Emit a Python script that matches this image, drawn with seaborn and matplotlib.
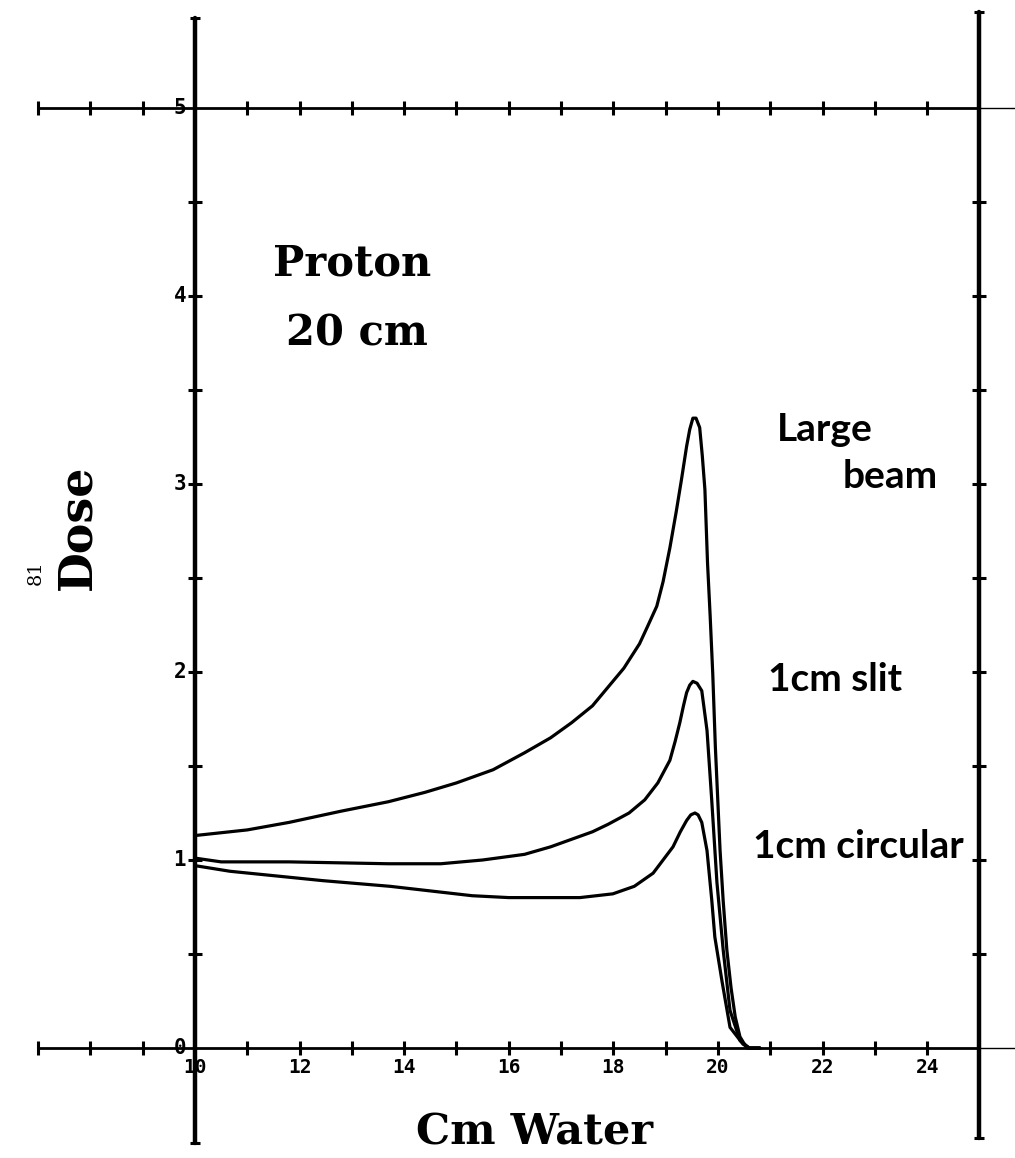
import numpy as np
import pandas as pd
import seaborn as sns
import matplotlib.pyplot as plt

# depth in water (cm) and relative dose
large_x = [10.0, 11.0, 11.8, 12.8, 13.7, 14.4, 15.0, 15.7, 16.3, 16.8, 17.2, 17.6,
           17.9, 18.2, 18.5, 18.65, 18.83, 18.95, 19.08, 19.2, 19.3, 19.4, 19.46,
           19.52, 19.58, 19.65, 19.7, 19.75, 19.8, 19.85, 19.9, 19.95, 20.04, 20.1,
           20.17, 20.25, 20.33, 20.42, 20.55, 20.8]
large_y = [1.13, 1.16, 1.20, 1.26, 1.31, 1.36, 1.41, 1.48, 1.57, 1.65, 1.73, 1.82,
           1.92, 2.02, 2.15, 2.24, 2.35, 2.48, 2.66, 2.85, 3.02, 3.20, 3.29,
           3.35, 3.35, 3.30, 3.15, 2.97, 2.58, 2.30, 1.99, 1.60, 1.05, 0.78,
           0.52, 0.32, 0.165, 0.06, 0.0, 0.0]

slit_x = [10.0, 10.5, 11.8, 13.7, 14.7, 15.5, 16.3, 16.8, 17.2, 17.6, 17.9, 18.3,
          18.6, 18.85, 19.08, 19.18, 19.27, 19.34, 19.4, 19.46, 19.52, 19.6, 19.69,
          19.79, 19.88, 19.98, 20.1, 20.23, 20.42, 20.6, 20.8]
slit_y = [1.01, 0.99, 0.99, 0.98, 0.98, 1.00, 1.03, 1.07, 1.11, 1.15, 1.19, 1.25,
          1.32, 1.41, 1.53, 1.63, 1.73, 1.82, 1.89, 1.93, 1.95, 1.94, 1.90,
          1.69, 1.32, 0.88, 0.52, 0.20, 0.04, 0.0, 0.0]

circ_x = [10.0, 10.67, 12.45, 13.73, 15.3, 16.0, 16.6, 17.36, 17.99, 18.4, 18.76,
          18.95, 19.14, 19.28, 19.4, 19.48, 19.56, 19.62, 19.69, 19.79, 19.88,
          19.94, 20.08, 20.23, 20.48, 20.6, 20.8]
circ_y = [0.97, 0.94, 0.89, 0.86, 0.81, 0.80, 0.80, 0.80, 0.82, 0.86, 0.93,
          1.00, 1.07, 1.15, 1.21, 1.24, 1.25, 1.24, 1.20, 1.05, 0.79,
          0.59, 0.35, 0.11, 0.02, 0.0, 0.0]

x_ticks = [7, 8, 9, 11, 12, 13, 14, 15, 16, 17, 18, 19, 20, 21, 22, 23, 24]
x_labels = ["10", "12", "14", "16", "18", "20", "22", "24"]
y_ticks = [0.5, 1, 1.5, 2, 2.5, 3, 3.5, 4, 4.5]
y_labels = ["0", "1", "2", "3", "4", "5"]

df = pd.concat([
    pd.DataFrame({"depth": large_x, "dose": large_y, "beam": "Large beam"}),
    pd.DataFrame({"depth": slit_x, "dose": slit_y, "beam": "1cm slit"}),
    pd.DataFrame({"depth": circ_x, "dose": circ_y, "beam": "1cm circular"}),
], ignore_index=True)

sns.set_style("white")

fig = plt.figure(figsize=(10.15, 11.58), dpi=100)
ax = fig.add_axes([0, 0, 1, 1])

sns.lineplot(data=df, x="depth", y="dose", units="beam", estimator=None, sort=False,
             color="black", lw=2.3, legend=False, ax=ax)
for line in ax.lines:
    line.set_solid_joinstyle("round")

ax.set_xlim(6.272, 25.679)
ax.set_ylim(-0.585, 5.574)
ax.axis("off")

# hand drawn frame: two horizontal rules and two vertical rules
for yy in [0, 5]:
    ax.plot([6.97, 25.0], [yy, yy], color="black", lw=2.0, solid_capstyle="butt")
    ax.plot([25.0, 25.68], [yy, yy], color="black", lw=1.0)
    ax.plot(x_ticks, [yy] * len(x_ticks), ls="none", marker="|", ms=10, mew=2.2, color="black")

ax.plot([10, 10], [-0.505, 5.48], color="black", lw=3.2)
ax.plot([25, 25], [-0.48, 5.51], color="black", lw=3.2)
ax.plot([10, 10, 25, 25], [-0.505, 5.48, -0.48, 5.51], ls="none", marker="_", ms=7, mew=2.2, color="black")
for xx in [10, 25]:
    ax.plot([xx] * len(y_ticks), y_ticks, ls="none", marker="_", ms=10, mew=2.2, color="black")

tick_font = dict(family="DejaVu Sans Mono", weight="bold", fontsize=14, color="black")
for i, lab in enumerate(x_labels):
    ax.text(10 + 2 * i, -0.106, lab, ha="center", va="center", **tick_font)
for i, lab in enumerate(y_labels):
    ax.text(9.83, i, lab, ha="right", va="center", fontsize=15, family="DejaVu Sans Mono",
            weight="bold", color="black")

serif = dict(family="DejaVu Serif", weight="bold", color="black")
ax.text(13.0, 4.17, "Proton", ha="center", va="center", fontsize=30, **serif)
ax.text(13.1, 3.80, "20 cm", ha="center", va="center", fontsize=30, **serif)
ax.text(16.5, -0.45, "Cm Water", ha="center", va="center", fontsize=31, **serif)
ax.text(7.76, 2.77, "Dose", ha="center", va="center", rotation=90, fontsize=33, **serif)
ax.text(6.96, 2.53, "81", ha="center", va="center", rotation=90, fontsize=14,
        family="DejaVu Serif", color="black")

hand = dict(family="Lato", weight="bold", fontsize=28, color="black")
ax.text(21.13, 3.29, "Large", ha="left", va="center", **hand)
ax.text(22.39, 3.04, "beam", ha="left", va="center", **hand)
ax.text(20.96, 1.96, "1cm slit", ha="left", va="center", **hand)
ax.text(20.67, 1.07, "1cm circular", ha="left", va="center", **hand)

plt.savefig("out.png", dpi=100)
